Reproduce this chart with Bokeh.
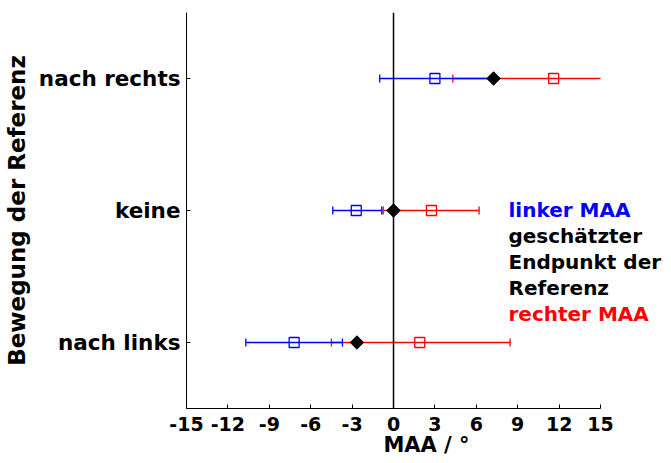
import math
from bokeh.plotting import figure
from bokeh.models import Range1d, FixedTicker, Span, Label, ColumnDataSource
from bokeh.embed import file_html
from bokeh.resources import INLINE

# ---- data ----
categories = ["nach links", "keine", "nach rechts"]
cat_pos = [1, 2, 3]
left_maa = [-7.2, -2.7, 3.0]
left_lo = [-10.7, -4.4, -1.0]
left_hi = [-3.7, -0.85, 7.2]
right_maa = [1.9, 2.75, 11.6]
right_lo = [-4.5, -0.75, 4.3]
right_hi = [8.45, 6.2, 15.5]
endpoint = [-2.65, 0.0, 7.25]
x_ticks = [-15, -12, -9, -6, -3, 0, 3, 6, 9, 12, 15]
legend_lines = [("linker MAA", "#0000ff"),
                ("geschätzter", "#000000"),
                ("Endpunkt der", "#000000"),
                ("Referenz", "#000000"),
                ("rechter MAA", "#ff0000")]

FONT = "DejaVu Sans"
X_MIN, X_MAX = -15, 15

p = figure(width=671, height=463, output_backend="svg", toolbar_location=None,
           x_range=Range1d(X_MIN, 19.78), y_range=Range1d(0.5, 3.5),
           min_border_left=186, min_border_right=5, min_border_top=12, min_border_bottom=55)
p.outline_line_color = None
p.xgrid.grid_line_color = None
p.ygrid.grid_line_color = None
p.background_fill_color = "white"
p.border_fill_color = "white"

# values drawn inside the visible axis span (x axis ends at 15)
rhi_draw = [min(v, X_MAX) for v in right_hi]
lhi_draw = [min(v, X_MAX) for v in left_hi]

src = ColumnDataSource(dict(y=cat_pos, lmaa=left_maa, llo=left_lo, lhi=lhi_draw,
                            rmaa=right_maa, rlo=right_lo, rhi=rhi_draw, ep=endpoint))
rcap_src = ColumnDataSource(dict(
    x=[v for v in right_lo] + [v for v in right_hi if v <= X_MAX],
    y=list(cat_pos) + [c for c, v in zip(cat_pos, right_hi) if v <= X_MAX]))
lcap_src = ColumnDataSource(dict(
    x=[v for v in left_lo] + [v for v in left_hi if v <= X_MAX],
    y=list(cat_pos) + [c for c, v in zip(cat_pos, left_hi) if v <= X_MAX]))

# zero line
p.add_layout(Span(location=0, dimension="height", line_color="black", line_width=1.5))

# right MAA (red) first
p.segment(x0="rlo", x1="rhi", y0="y", y1="y", source=src, line_color="#ff0000", line_width=1.3)
p.scatter(x="x", y="y", source=rcap_src, marker="dash", angle=math.pi / 2, size=8,
          line_color="#ff0000", line_width=1.3)
p.scatter(x="rmaa", y="y", source=src, marker="square", size=10, fill_color=None,
          line_color="#ff0000", line_width=1.3)

# left MAA (blue)
p.segment(x0="llo", x1="lhi", y0="y", y1="y", source=src, line_color="#0000ff", line_width=1.3)
p.scatter(x="x", y="y", source=lcap_src, marker="dash", angle=math.pi / 2, size=8,
          line_color="#0000ff", line_width=1.3)
p.scatter(x="lmaa", y="y", source=src, marker="square", size=10, fill_color=None,
          line_color="#0000ff", line_width=1.3)

# estimated endpoint (black diamond)
p.scatter(x="ep", y="y", source=src, marker="square", angle=math.pi / 4, size=9.5,
          fill_color="black", line_color="black", line_width=1)

# axes
xa = p.xaxis[0]
xa.bounds = (X_MIN, X_MAX)
xa.ticker = FixedTicker(ticks=x_ticks)
xa.major_label_overrides = {t: str(t) for t in x_ticks}
xa.minor_tick_line_color = None
xa.major_tick_in = 4
xa.major_tick_out = 0
xa.major_label_standoff = 8
xa.major_label_text_font = FONT
xa.major_label_text_font_style = "bold"
xa.major_label_text_font_size = "19px"
xa.major_label_text_color = "black"
xa.axis_label = "MAA / °"
xa.axis_label_text_font = FONT
xa.axis_label_text_font_style = "bold"
xa.axis_label_text_font_size = "21px"
xa.axis_label_text_color = "black"
xa.axis_label_standoff = -1
xa.axis_line_color = "black"
xa.major_tick_line_color = "black"

ya = p.yaxis[0]
ya.ticker = FixedTicker(ticks=cat_pos)
ya.major_label_overrides = {c: n for c, n in zip(cat_pos, categories)}
ya.minor_tick_line_color = None
ya.major_tick_in = 4
ya.major_tick_out = 0
ya.major_label_standoff = 6
ya.major_label_text_font = FONT
ya.major_label_text_font_style = "bold"
ya.major_label_text_font_size = "21.5px"
ya.major_label_text_color = "black"
ya.axis_label = "Bewegung der Referenz"
ya.axis_label_text_font = FONT
ya.axis_label_text_font_style = "bold"
ya.axis_label_text_font_size = "23px"
ya.axis_label_text_color = "black"
ya.axis_label_standoff = 6
ya.axis_line_color = "black"
ya.major_tick_line_color = "black"

# legend text block
x_leg = 8.33
y_top = 2.007
step = 0.198
for i, (txt, col) in enumerate(legend_lines):
    p.add_layout(Label(x=x_leg, y=y_top - i * step, text=txt, text_color=col,
                       text_font=FONT, text_font_style="bold", text_font_size="20px",
                       text_baseline="alphabetic", text_align="left"))

open("out.html", "w").write(file_html(p, INLINE))
